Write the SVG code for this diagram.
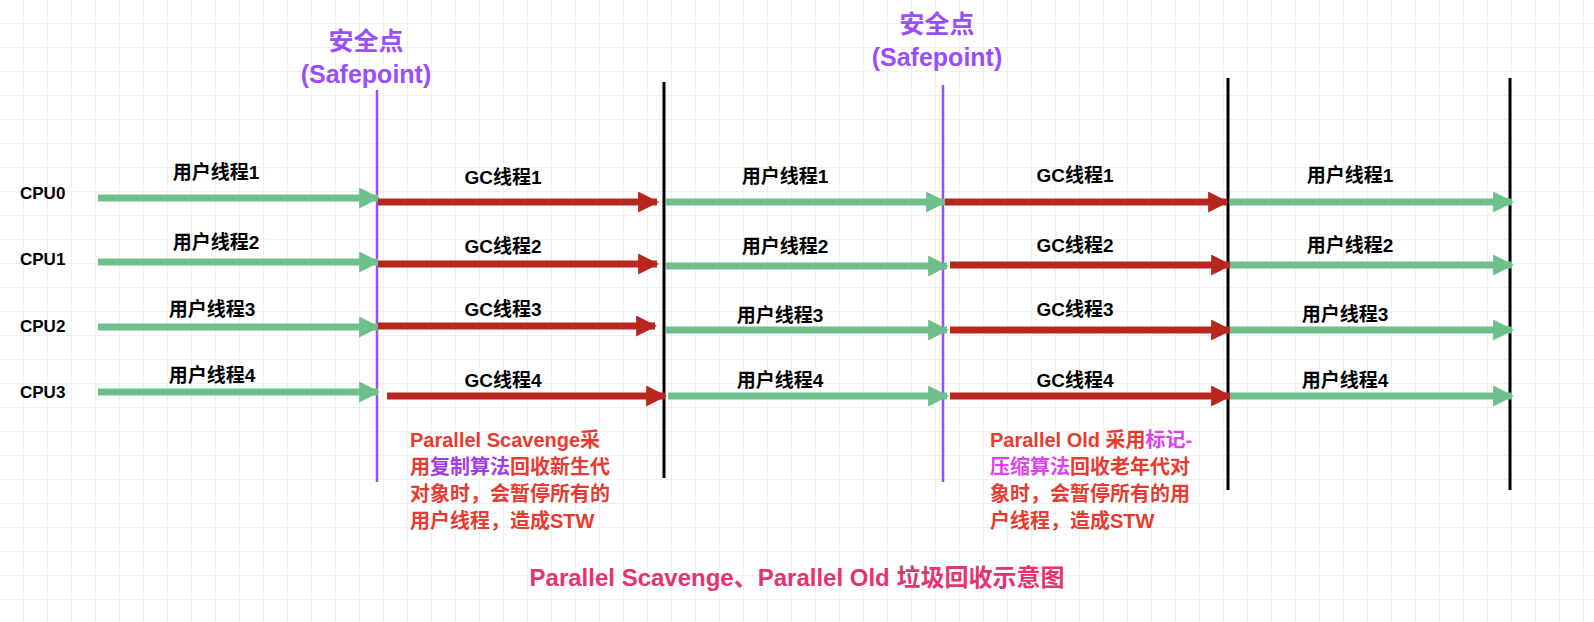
<svg xmlns="http://www.w3.org/2000/svg" width="1594" height="622" viewBox="0 0 1594 622">
<defs>
<pattern id="g" width="24" height="24" patternUnits="userSpaceOnUse"><path d="M24 0V24M0 24H24" fill="none" stroke="#ececec" stroke-width="1.5"/></pattern>
<marker id="mg" viewBox="0 0 10 10" refX="9" refY="5" markerWidth="3" markerHeight="3" orient="auto" markerUnits="strokeWidth"><path d="M0 0L10 5L0 10z" fill="#6dbf8b"/></marker>
<marker id="mr" viewBox="0 0 10 10" refX="9" refY="5" markerWidth="3" markerHeight="3" orient="auto" markerUnits="strokeWidth"><path d="M0 0L10 5L0 10z" fill="#b8261e"/></marker>
</defs>
<style>
text{font-family:"Liberation Sans","Noto Sans CJK SC",sans-serif;font-weight:bold}
.l{font-size:19px;fill:#000;text-anchor:middle}
.c{font-size:17px;fill:#000}
.g{stroke:#6dbf8b;stroke-width:7;marker-end:url(#mg)}
.r{stroke:#b8261e;stroke-width:7;marker-end:url(#mr)}
.s{font-size:25px;fill:#9a4dfa;text-anchor:middle}
.n{font-size:20px;fill:#e83a2f}
.p{fill:#a43ce6}.m{fill:#e040f0}
</style>
<rect width="1594" height="622" fill="#fff"/>
<rect width="1594" height="622" fill="url(#g)"/>
<g id="lines">
<line x1="377" y1="90" x2="377" y2="482" stroke="#9a4dfa" stroke-width="2.5"/>
<line x1="943" y1="85" x2="943" y2="482" stroke="#9a4dfa" stroke-width="2.5"/>
<line x1="664" y1="82" x2="664" y2="478" stroke="#000" stroke-width="3"/>
<line x1="1228" y1="78" x2="1228" y2="490" stroke="#000" stroke-width="3"/>
<line x1="1510" y1="78" x2="1510" y2="490" stroke="#000" stroke-width="3"/>
</g>
<g id="connectors">
<line class="g" x1="98" y1="198" x2="378" y2="198"/><line class="r" x1="378" y1="202" x2="657" y2="202"/><line class="g" x1="666" y1="202" x2="945" y2="202"/><line class="r" x1="945" y1="202" x2="1227" y2="202"/><line class="g" x1="1230" y1="202" x2="1512" y2="202"/>
<line class="g" x1="98" y1="262" x2="378" y2="262"/><line class="r" x1="378" y1="264" x2="657" y2="264"/><line class="g" x1="666" y1="266" x2="947" y2="266"/><line class="r" x1="950" y1="265" x2="1230" y2="265"/><line class="g" x1="1230" y1="265" x2="1512" y2="265"/>
<line class="g" x1="98" y1="327" x2="378" y2="327"/><line class="r" x1="378" y1="326" x2="655" y2="326"/><line class="g" x1="666" y1="330" x2="947" y2="330"/><line class="r" x1="950" y1="330" x2="1230" y2="330"/><line class="g" x1="1230" y1="330" x2="1512" y2="330"/>
<line class="g" x1="98" y1="392" x2="378" y2="392"/><line class="r" x1="387" y1="396" x2="665" y2="396"/><line class="g" x1="668" y1="396" x2="947" y2="396"/><line class="r" x1="950" y1="396" x2="1230" y2="396"/><line class="g" x1="1230" y1="396" x2="1512" y2="396"/>
</g>
<g id="cpus">
<text class="c" x="20" y="199">CPU0</text><text class="c" x="20" y="265">CPU1</text><text class="c" x="20" y="332">CPU2</text><text class="c" x="20" y="398">CPU3</text>
</g>
<g id="labels">
<text class="l" x="216" y="179">用户线程1</text><text class="l" x="503" y="184">GC线程1</text><text class="l" x="785" y="183">用户线程1</text><text class="l" x="1075" y="182">GC线程1</text><text class="l" x="1350" y="182">用户线程1</text>
<text class="l" x="216" y="249">用户线程2</text><text class="l" x="503" y="253">GC线程2</text><text class="l" x="785" y="253">用户线程2</text><text class="l" x="1075" y="252">GC线程2</text><text class="l" x="1350" y="252">用户线程2</text>
<text class="l" x="212" y="316">用户线程3</text><text class="l" x="503" y="316">GC线程3</text><text class="l" x="780" y="322">用户线程3</text><text class="l" x="1075" y="316">GC线程3</text><text class="l" x="1345" y="321">用户线程3</text>
<text class="l" x="212" y="382">用户线程4</text><text class="l" x="503" y="387">GC线程4</text><text class="l" x="780" y="387">用户线程4</text><text class="l" x="1075" y="387">GC线程4</text><text class="l" x="1345" y="387">用户线程4</text>
</g>
<g id="safepoint1"><text class="s" x="366" y="50">安全点</text><text class="s" x="366" y="83">(Safepoint)</text></g>
<g id="safepoint2"><text class="s" x="937" y="33">安全点</text><text class="s" x="937" y="66">(Safepoint)</text></g>
<g id="note1">
<text class="n" x="410" y="447">Parallel Scavenge采</text>
<text class="n" x="410" y="474">用<tspan class="p">复制算法</tspan>回收新生代</text>
<text class="n" x="410" y="501">对象时，会暂停所有的</text>
<text class="n" x="410" y="528">用户线程，造成STW</text>
</g>
<g id="note2">
<text class="n" x="990" y="447">Parallel Old 采用<tspan class="m">标记-</tspan></text>
<text class="n" x="990" y="474"><tspan class="m">压缩算法</tspan>回收老年代对</text>
<text class="n" x="990" y="501">象时，会暂停所有的用</text>
<text class="n" x="990" y="528">户线程，造成STW</text>
</g>
<text x="797" y="586" font-size="24" fill="#e6336f" text-anchor="middle">Parallel Scavenge、Parallel Old 垃圾回收示意图</text>
</svg>
